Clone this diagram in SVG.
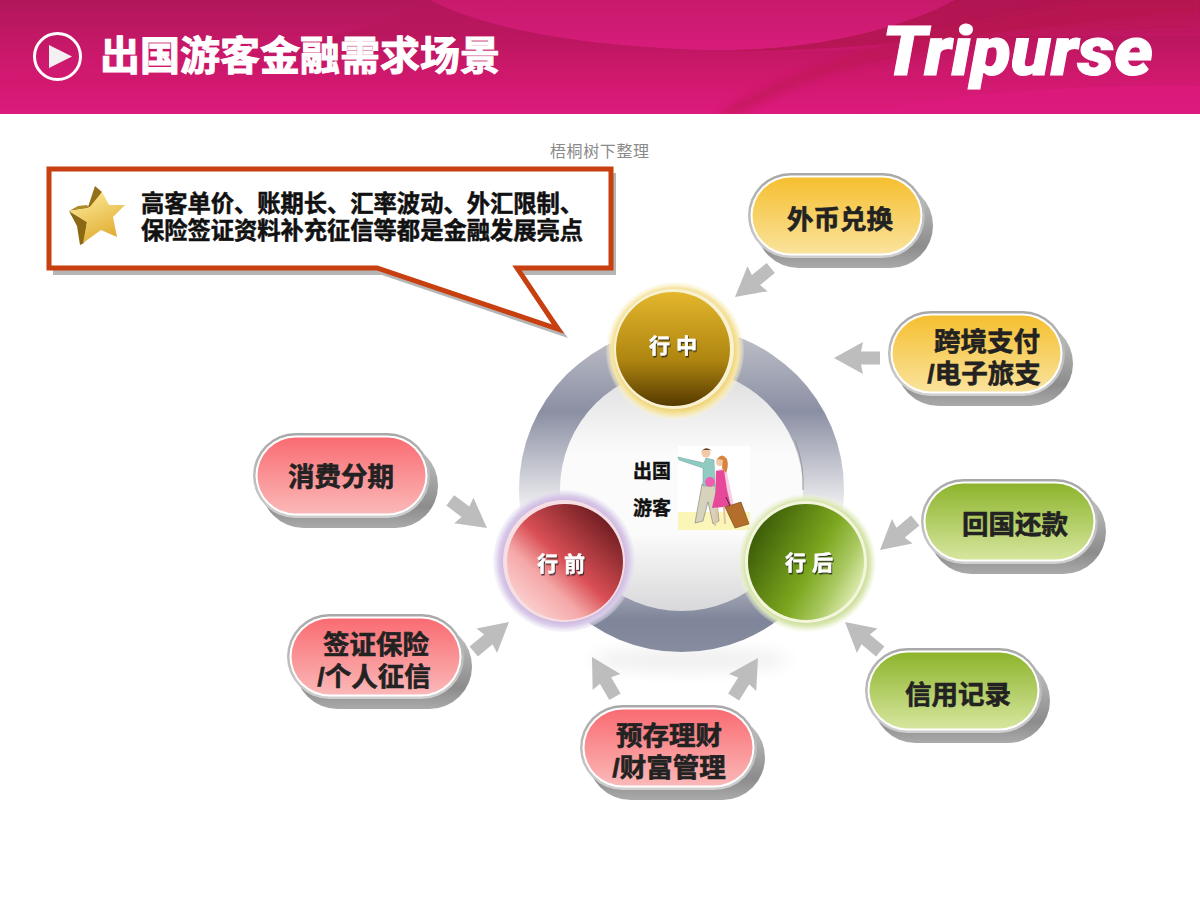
<svg xmlns="http://www.w3.org/2000/svg" width="1200" height="900" viewBox="0 0 1200 900">
<style>
text{font-family:"Noto Sans CJK SC","Noto Sans",sans-serif;font-weight:700}
.pt{font-family:"Liberation Sans","Noto Sans CJK SC",sans-serif;font-size:26.500px;fill:#222;stroke:#222;stroke-width:.6;text-anchor:middle}
.cl{font-family:"Liberation Sans","Noto Sans CJK SC",sans-serif;font-size:23.300px;fill:#111;stroke:#111;stroke-width:.5}
.sl{font-size:21px;fill:#fff;stroke:#fff;stroke-width:.4;text-anchor:middle;letter-spacing:6px;filter:url(#ts)}
.ct{font-size:19px;fill:#111;stroke:#111;stroke-width:.4;text-anchor:middle}
.arrow{fill:#bdbdbd}
</style>
<defs>
<clipPath id="hclip"><rect x="0" y="0" width="1200" height="114"/></clipPath>
<linearGradient id="hdr" x1="0" y1="0" x2="0" y2="1"><stop offset="0" stop-color="#b0175a"/><stop offset=".5" stop-color="#cc186c"/><stop offset="1" stop-color="#dc1a7c"/></linearGradient>
<linearGradient id="up" x1="0" y1="0" x2="0" y2="1"><stop offset="0" stop-color="#c81a6c"/><stop offset="1" stop-color="#d61c7a"/></linearGradient>
<linearGradient id="lo" gradientUnits="userSpaceOnUse" x1="0" y1="40" x2="0" y2="114"><stop offset="0" stop-color="#b5155a"/><stop offset=".45" stop-color="#cc1868"/><stop offset="1" stop-color="#dc1a7c"/></linearGradient>
<linearGradient id="ring" gradientUnits="userSpaceOnUse" x1="0" y1="327" x2="0" y2="652"><stop offset="0" stop-color="#c2c4cc"/><stop offset=".26" stop-color="#8b8fa3"/><stop offset=".56" stop-color="#f1f1f2"/><stop offset=".72" stop-color="#c6c8d0"/><stop offset=".9" stop-color="#7f859a"/><stop offset="1" stop-color="#878c9f"/></linearGradient>
<linearGradient id="inner" x1="0" y1="0" x2="0" y2="1"><stop offset="0" stop-color="#dcdcde"/><stop offset=".35" stop-color="#fbfbfb"/><stop offset=".68" stop-color="#fbfbfb"/><stop offset="1" stop-color="#d8d8da"/></linearGradient>
<linearGradient id="gold" x1="0" y1="0" x2="0" y2="1"><stop offset="0" stop-color="#e3b62c"/><stop offset=".6" stop-color="#ae8510"/><stop offset="1" stop-color="#553a00"/></linearGradient>
<linearGradient id="red" x1=".1" y1=".9" x2=".85" y2=".1"><stop offset="0" stop-color="#fcd4d4"/><stop offset=".3" stop-color="#f5a8a8"/><stop offset=".52" stop-color="#d94f55"/><stop offset="1" stop-color="#6c1c20"/></linearGradient>
<linearGradient id="green" x1=".05" y1=".25" x2=".95" y2=".75"><stop offset="0" stop-color="#3c5c08"/><stop offset=".55" stop-color="#7ba61e"/><stop offset=".8" stop-color="#a9c860"/><stop offset="1" stop-color="#dcebb0"/></linearGradient>
<radialGradient id="hg"><stop offset=".8" stop-color="#ecc85a"/><stop offset=".92" stop-color="#f6e6a8"/><stop offset="1" stop-color="#fbf4d4" stop-opacity=".2"/></radialGradient>
<radialGradient id="hr"><stop offset=".8" stop-color="#c8a8d8"/><stop offset=".92" stop-color="#d9cce9"/><stop offset="1" stop-color="#e8e2f2" stop-opacity=".3"/></radialGradient>
<radialGradient id="hv"><stop offset=".8" stop-color="#b6cf78"/><stop offset=".92" stop-color="#dde9b8"/><stop offset="1" stop-color="#eef4d8" stop-opacity=".2"/></radialGradient>
<linearGradient id="pr" x1="0" y1="0" x2="0" y2="1"><stop offset="0" stop-color="#f96c72"/><stop offset="1" stop-color="#fbb8b8"/></linearGradient>
<linearGradient id="py" x1="0" y1="0" x2="0" y2="1"><stop offset="0" stop-color="#f5bf30"/><stop offset="1" stop-color="#fae39c"/></linearGradient>
<linearGradient id="pg" x1="0" y1="0" x2="0" y2="1"><stop offset="0" stop-color="#8db42c"/><stop offset="1" stop-color="#d6e69e"/></linearGradient>
<linearGradient id="bd" x1="0" y1="0" x2="0" y2="1"><stop offset="0" stop-color="#a8a8a8"/><stop offset="1" stop-color="#cfcfcf"/></linearGradient>
<linearGradient id="sd" x1="0" y1="0" x2="0" y2="1"><stop offset="0" stop-color="#c8c8c8"/><stop offset=".75" stop-color="#8c8c8c"/><stop offset="1" stop-color="#aaa"/></linearGradient>
<linearGradient id="st" x1=".2" y1="0" x2=".7" y2="1"><stop offset="0" stop-color="#fdeb96"/><stop offset="1" stop-color="#dfa92e"/></linearGradient>
<filter id="ts" x="-20%" y="-20%" width="140%" height="150%"><feDropShadow dx="1" dy="1.500" stdDeviation=".6" flood-color="#222" flood-opacity=".85"/></filter>
<filter id="soft" x="-20%" y="-40%" width="140%" height="180%"><feGaussianBlur stdDeviation="8"/></filter>
<filter id="streak" x="-10%" y="-30%" width="120%" height="160%"><feGaussianBlur stdDeviation="3"/></filter>
<polygon id="ar" class="arrow" points="0,0 -29,-16 -27,-6.500 -46,-6.500 -46,6.500 -27,6.500 -29,16"/>
<g id="pill-base">
<rect x="8" y="10" width="177" height="85" rx="42.500" fill="url(#sd)"/>
<rect x="0" y="0" width="177" height="85" rx="42.500" fill="url(#bd)"/>
<rect x="2.500" y="2.500" width="172" height="80" rx="40" fill="#fff"/>
</g>
</defs>

<rect width="1200" height="900" fill="#fff"/>

<g id="header">
<rect x="0" y="0" width="1200" height="114" fill="url(#hdr)"/>
<path d="M430 0 C480 26 570 44 706 50 C800 54 880 52 950 36 L1200 36 L1200 114 L0 114 L0 80 C200 70 360 40 430 0Z" fill="url(#lo)" opacity=".55"/>
<path d="M430 0 C480 26 570 46 706 50 C810 52 900 30 955 0Z" fill="url(#up)"/>
<path d="M955 0 C900 30 810 52 706 50 C840 56 1000 30 1200 10 L1200 0Z" fill="#b2164f" opacity=".75"/>
<g clip-path="url(#hclip)"><path d="M740 114 C790 84 860 60 960 46 C1050 34 1130 28 1200 28 L1200 0 L1100 0 C960 20 800 60 716 114Z" fill="#bc1450" opacity=".5" filter="url(#streak)"/></g>
<path d="M860 114 C920 98 1050 84 1200 86 L1200 114Z" fill="#dc1a7c" opacity=".9"/>
<circle cx="57.500" cy="56.500" r="23" fill="none" stroke="#fff" stroke-width="3"/>
<polygon points="49,45 72,56.500 49,68" fill="#f4f0f2"/>
<text x="100" y="70" font-size="40" fill="#fff" stroke="#fff" stroke-width="1" textLength="400" lengthAdjust="spacing">出国游客金融需求场景</text>
<text x="882" y="75" font-size="68" fill="#fff" stroke="#fff" stroke-width="1" font-style="italic" style="font-family:Roboto,'Liberation Sans',sans-serif;font-weight:900" textLength="271" lengthAdjust="spacingAndGlyphs">Tripurse</text>
</g>

<text id="watermark" x="550" y="157" font-size="16" fill="#8a8a8a" style="font-weight:400" textLength="99">梧桐树下整理</text>

<g id="callout">
<path d="M53 173 H616 V275 H522 L568 338 L382 275 H53Z" fill="#b5b5b5"/>
<path d="M49 169 H611 V268 H517 L558 329 L377 268 H49Z" fill="#fff" stroke="#c8400f" stroke-width="5"/>
<g id="star">
<polygon points="95,186 102,192 93,207 88,207" fill="#94701a"/>
<polygon points="69,211 87,222 84,243 80,245 77,226" fill="#8a6814"/>
<polygon points="69,211 89,208 87,205 78,206" fill="#b08a28"/>
<polygon points="102,192 109,205 125,205 113,217 117,237 101,230 83,243 87,222 69,211 89,208" fill="url(#st)"/>
</g>
<text class="cl"><tspan x="141" y="212" textLength="442" lengthAdjust="spacing">高客单价、账期长、汇率波动、外汇限制、</tspan><tspan x="141" y="239" textLength="442" lengthAdjust="spacing">保险签证资料补充征信等都是金融发展亮点</tspan></text>
</g>

<g id="hub">
<ellipse cx="690" cy="660" rx="100" ry="12" fill="#f0f0f0" filter="url(#soft)"/>
<circle cx="681.500" cy="489.500" r="162.500" fill="url(#ring)"/>
<circle cx="681.500" cy="489.500" r="121.500" fill="url(#inner)"/>
<path d="M795 440 A122 122 0 0 1 803 490" fill="none" stroke="#9a9a9a" stroke-width="1"/>
<text class="ct"><tspan x="652" y="478">出国</tspan><tspan x="652" y="515">游客</tspan></text>
<g id="travellers">
<rect x="678" y="446" width="72" height="84" fill="#fff"/>
<rect x="678" y="512" width="72" height="18" fill="#fbf6b8"/>
<path d="M716 470 L726 468 L734 506 L710 509Z" fill="#f6cde4"/>
<path d="M702 484 L715 484 L719 521 L713 524 L708 502 L703 521 L695 523Z" fill="#d6d2bc" stroke="#666" stroke-width=".5"/>
<path d="M678 457 L704 463 L706 458 L714 460 L715 486 L703 486 L703 468 L679 460Z" fill="#8fcbc2" stroke="#5c8f8a" stroke-width=".4"/>
<circle cx="706" cy="453" r="4.500" fill="#f3c8a8"/>
<path d="M701 452 Q706 445 712 451 L710 450 L703 450Z" fill="#6a4526"/>
<circle cx="710" cy="482" r="5" fill="#ec5fb0"/>
<path d="M716 471 L724 470 L727 490 L731 506 L712 508 L716 490Z" fill="#e8489a"/>
<path d="M717 508 L715 526 M724 507 L725 524" stroke="#e4c4a4" stroke-width="2"/>
<circle cx="720" cy="462" r="4" fill="#f3c8a8"/>
<path d="M717 459 Q722 452 727 459 Q729 466 726 473 L722 468 L723 460Z" fill="#d8843c"/>
<path d="M726 497 L731 508" stroke="#333" stroke-width="1"/>
<polygon points="725,507 741,502 749,524 735,528" fill="#b36e2c" stroke="#6e4012" stroke-width=".6"/>
</g>
</g>

<g id="connectors">
<use href="#ar" transform="translate(735,297) rotate(141)"/>
<use href="#ar" transform="translate(834,358) rotate(180)"/>
<use href="#ar" transform="translate(880,550) rotate(140)"/>
<use href="#ar" transform="translate(845,622) rotate(-140)"/>
<use href="#ar" transform="translate(487,528) rotate(37)"/>
<use href="#ar" transform="translate(509,622) rotate(-40)"/>
<use href="#ar" transform="translate(592,657) rotate(-120)"/>
<use href="#ar" transform="translate(758,658) rotate(-58)"/>
</g>

<g id="node-zhong">
<circle cx="675" cy="351" r="69" fill="url(#hg)"/>
<circle cx="674" cy="349" r="60" fill="#f8f2d2"/>
<circle cx="673" cy="349" r="57" fill="url(#gold)"/>
<text class="sl" x="676" y="353">行中</text>
</g>
<g id="node-qian">
<circle cx="564" cy="561" r="71" fill="url(#hr)"/>
<circle cx="564" cy="561" r="61" fill="#f6dfe4"/>
<circle cx="565" cy="562" r="58" fill="url(#red)"/>
<text class="sl" x="564" y="571">行前</text>
</g>
<g id="node-hou">
<circle cx="807" cy="563" r="69" fill="url(#hv)"/>
<circle cx="806" cy="562" r="61" fill="#f3f6dc"/>
<circle cx="806" cy="562" r="58" fill="url(#green)"/>
<text class="sl" x="812" y="570">行后</text>
</g>

<g id="pill-waibi"><use href="#pill-base" x="748" y="173"/><rect x="752.500" y="177.500" width="168" height="76" rx="38" fill="url(#py)"/><text class="pt" x="840" y="229">外币兑换</text></g>
<g id="pill-kuajing"><use href="#pill-base" x="888" y="311"/><rect x="892.500" y="315.500" width="168" height="76" rx="38" fill="url(#py)"/><text class="pt"><tspan x="987" y="351">跨境支付</tspan><tspan x="984" y="383">/电子旅支</tspan></text></g>
<g id="pill-huiguo"><use href="#pill-base" x="921" y="479"/><rect x="925.500" y="483.500" width="168" height="76" rx="38" fill="url(#pg)"/><text class="pt" x="1015" y="534">回国还款</text></g>
<g id="pill-xinyong"><use href="#pill-base" x="865" y="648"/><rect x="869.500" y="652.500" width="168" height="76" rx="38" fill="url(#pg)"/><text class="pt" x="958" y="704">信用记录</text></g>
<g id="pill-xiaofei"><use href="#pill-base" x="253" y="433"/><rect x="257.500" y="437.500" width="168" height="76" rx="38" fill="url(#pr)"/><text class="pt" x="341" y="486">消费分期</text></g>
<g id="pill-qianzheng"><use href="#pill-base" x="287" y="614"/><rect x="291.500" y="618.500" width="168" height="76" rx="38" fill="url(#pr)"/><text class="pt"><tspan x="376" y="654">签证保险</tspan><tspan x="374" y="686">/个人征信</tspan></text></g>
<g id="pill-yucun"><use href="#pill-base" x="580" y="705"/><rect x="584.500" y="709.500" width="168" height="76" rx="38" fill="url(#pr)"/><text class="pt"><tspan x="669" y="745">预存理财</tspan><tspan x="669" y="777">/财富管理</tspan></text></g>
</svg>
